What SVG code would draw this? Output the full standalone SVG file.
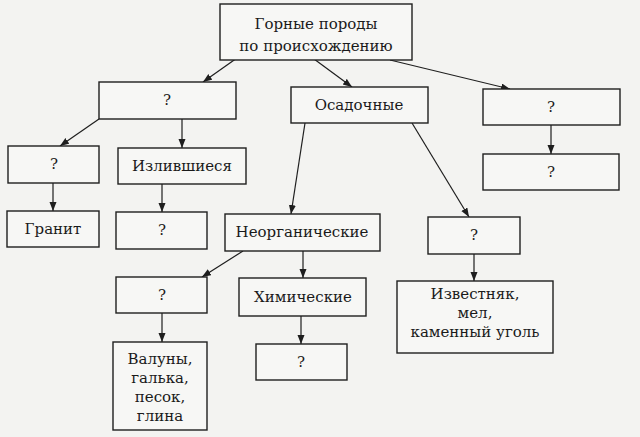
<svg xmlns="http://www.w3.org/2000/svg" width="640" height="437" viewBox="0 0 640 437">
<style>
.bg{fill:#f3f3f1}
.box{fill:#f7f7f5;stroke:#1e1e1e;stroke-width:1.4}
.t{font-family:"DejaVu Serif","Liberation Serif",serif;font-size:15px;fill:#1a1a1a;text-anchor:middle}
.c{stroke:#1e1e1e;stroke-width:1.2;fill:none;marker-end:url(#ah)}
</style>
<defs>
<marker id="ah" markerUnits="userSpaceOnUse" markerWidth="10" markerHeight="8" refX="9" refY="3.5" orient="auto">
<path d="M0,0 L9,3.5 L0,7 z" fill="#1e1e1e"/>
</marker>
</defs>
<rect class="bg" x="0" y="0" width="640" height="437"/>
<g id="connectors">
<line class="c" x1="237" y1="58" x2="203" y2="82"/>
<line class="c" x1="314" y1="59" x2="352" y2="87"/>
<line class="c" x1="390" y1="60" x2="510" y2="89"/>
<line class="c" x1="99" y1="119" x2="60" y2="146"/>
<line class="c" x1="182" y1="119" x2="182" y2="148"/>
<line class="c" x1="305" y1="123" x2="291" y2="214"/>
<line class="c" x1="412" y1="123" x2="469" y2="217"/>
<line class="c" x1="551" y1="125" x2="551" y2="154"/>
<line class="c" x1="53" y1="183" x2="53" y2="211"/>
<line class="c" x1="162" y1="184" x2="162" y2="212"/>
<line class="c" x1="243" y1="251" x2="202" y2="277"/>
<line class="c" x1="303" y1="251" x2="303" y2="278"/>
<line class="c" x1="474" y1="254" x2="474" y2="281"/>
<line class="c" x1="162" y1="313" x2="162" y2="342"/>
<line class="c" x1="301" y1="316" x2="301" y2="344"/>
</g>
<g id="root"><rect class="box" x="220" y="4" width="192" height="56"/><text class="t" x="316" y="29">Горные породы</text><text class="t" x="316" y="51">по происхождению</text></g>
<g id="q1"><rect class="box" x="99" y="82" width="137" height="37"/><text class="t" x="167" y="105">?</text></g>
<g id="osad"><rect class="box" x="291" y="87" width="137" height="36"/><text class="t" x="359" y="110">Осадочные</text></g>
<g id="q2"><rect class="box" x="483" y="89" width="137" height="36"/><text class="t" x="551" y="112">?</text></g>
<g id="q3"><rect class="box" x="8" y="146" width="91" height="37"/><text class="t" x="54" y="169">?</text></g>
<g id="izl"><rect class="box" x="118" y="148" width="128" height="36"/><text class="t" x="182" y="171">Излившиеся</text></g>
<g id="q4"><rect class="box" x="483" y="154" width="136" height="36"/><text class="t" x="551" y="177">?</text></g>
<g id="granit"><rect class="box" x="7" y="211" width="92" height="36"/><text class="t" x="53" y="234">Гранит</text></g>
<g id="q5"><rect class="box" x="116" y="212" width="91" height="37"/><text class="t" x="162" y="235">?</text></g>
<g id="neorg"><rect class="box" x="225" y="214" width="155" height="37"/><text class="t" x="302" y="237">Неорганические</text></g>
<g id="q6"><rect class="box" x="428" y="217" width="92" height="37"/><text class="t" x="474" y="240">?</text></g>
<g id="q7"><rect class="box" x="116" y="277" width="91" height="36"/><text class="t" x="162" y="300">?</text></g>
<g id="him"><rect class="box" x="239" y="278" width="127" height="38"/><text class="t" x="303" y="302">Химические</text></g>
<g id="izv"><rect class="box" x="397" y="281" width="156" height="72"/><text class="t" x="475" y="299">Известняк,</text><text class="t" x="475" y="318">мел,</text><text class="t" x="475" y="337">каменный уголь</text></g>
<g id="valuny"><rect class="box" x="113" y="342" width="94" height="88"/><text class="t" x="160" y="364">Валуны,</text><text class="t" x="160" y="383">галька,</text><text class="t" x="160" y="402">песок,</text><text class="t" x="160" y="421">глина</text></g>
<g id="q8"><rect class="box" x="256" y="344" width="91" height="36"/><text class="t" x="301" y="367">?</text></g>
</svg>
